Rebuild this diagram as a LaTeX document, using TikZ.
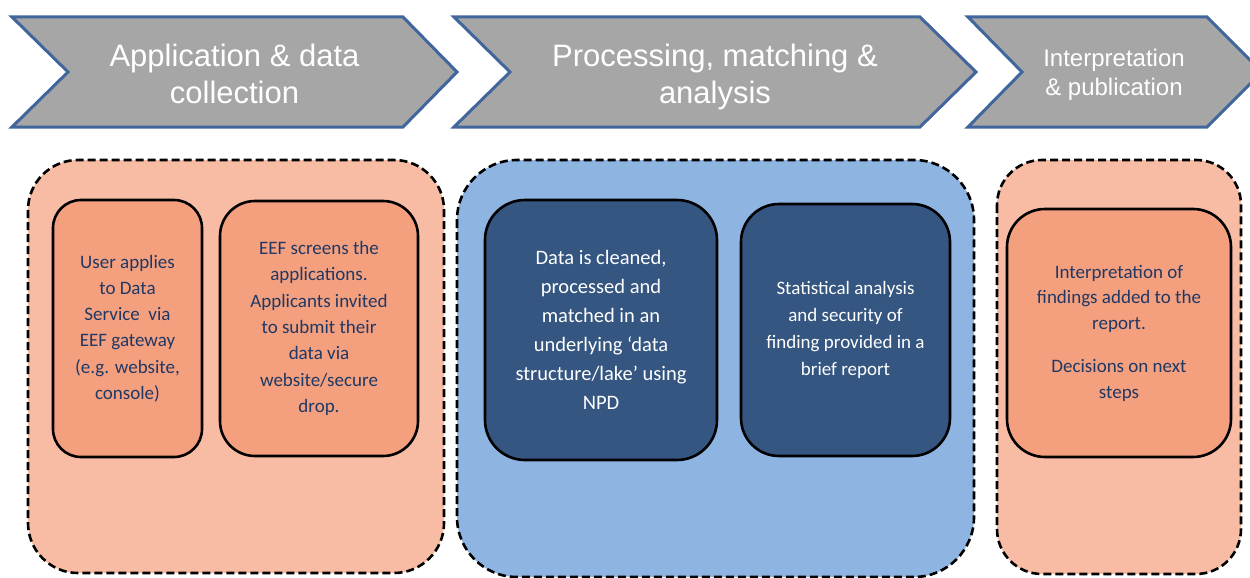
\documentclass[tikz,border=0pt]{standalone}
\usepackage{fontspec}
\setmainfont{Carlito}
\newfontfamily\headfont{Liberation Sans}

\definecolor{chevgray}{HTML}{A6A6A6}
\definecolor{chevedge}{HTML}{41669B}
\definecolor{peach}{HTML}{F8BCA4}
\definecolor{orangebox}{HTML}{F4A07F}
\definecolor{skyblue}{HTML}{8EB4E2}
\definecolor{navybox}{HTML}{345681}
\definecolor{navytext}{HTML}{203864}

\tikzset{
  chevron/.style={fill=chevgray, draw=chevedge, line width=3pt, line join=miter},
  headtext/.style={text=white, align=center, inner sep=0pt,
    font=\headfont\fontsize{31}{37}\selectfont},
  headsmall/.style={text=white, align=center, inner sep=0pt,
    font=\headfont\fontsize{24}{29}\selectfont},
  panel/.style={draw=black, line width=2.6pt, dash pattern=on 8pt off 4pt,
    rounded corners=50pt},
  stepbox/.style={draw=black, line width=2.6pt, align=center, inner sep=0pt,
    font=\fontsize{19}{26.3}\selectfont},
  warmbox/.style={stepbox, fill=orangebox, text=navytext},
  coolbox/.style={stepbox, fill=navybox, text=white},
}

\begin{document}
\begin{tikzpicture}[x=1pt,y=-1pt]
\useasboundingbox (0,0) rectangle (1250,578);
\clip (0,0) rectangle (1250,578);

% stage banners
\draw[chevron] (12,17) -- (403,17) -- (457,72) -- (403,127) -- (12,127) -- (68,72) -- cycle;
\draw[chevron] (454,17) -- (920,17) -- (976,72) -- (920,127) -- (454,127) -- (510,72) -- cycle;
\draw[chevron] (968,17) -- (1207,17) -- (1262,72) -- (1207,127) -- (968,127) -- (1022,72) -- cycle;

\node[headtext] (h1) at (234.5,74) {Application \& data\\collection};
\node[headtext] (h2) at (715,76.5) {Processing, matching \&\\analysis};
\node[headsmall] (h3) at (1114,75) {Interpretation\\\& publication};

% stage panels
\draw[panel, fill=peach] (28,160) rectangle (444,573);
\draw[panel, fill=skyblue, rounded corners=60pt] (457,160) rectangle (974,577);
\draw[panel, fill=peach, rounded corners=45pt] (997,160) rectangle (1241,574);

% steps
\node[warmbox, rounded corners=28pt, minimum width=149pt, minimum height=257pt]
  (s1) at (127.5,328.5) {User applies\\to Data\\Service\ \ via\\EEF gateway\\(e.g. website,\\console)};
\node[warmbox, rounded corners=35pt, minimum width=198pt, minimum height=255pt]
  (s2) at (319,328.5) {EEF screens the\\applications.\\Applicants invited\\to submit their\\data via\\website/secure\\drop.};
\node[coolbox, rounded corners=40pt, minimum width=232pt, minimum height=260pt,
  font=\fontsize{20.5}{29}\selectfont]
  (s3) at (601,330) {Data is cleaned,\\processed and\\matched in an\\underlying ‘data\\structure/lake’ using\\NPD};
\node[coolbox, rounded corners=38pt, minimum width=209pt, minimum height=252pt,
  font=\fontsize{19}{27}\selectfont]
  (s4) at (845.5,330) {Statistical analysis\\and security of\\finding provided in a\\brief report};
\node[warmbox, rounded corners=38pt, minimum width=224pt, minimum height=248pt,
  font=\fontsize{19}{25.5}\selectfont]
  (s5) at (1119,333) {Interpretation of\\findings added to the\\report.\\[18pt]Decisions on next\\steps};
\end{tikzpicture}
\end{document}
